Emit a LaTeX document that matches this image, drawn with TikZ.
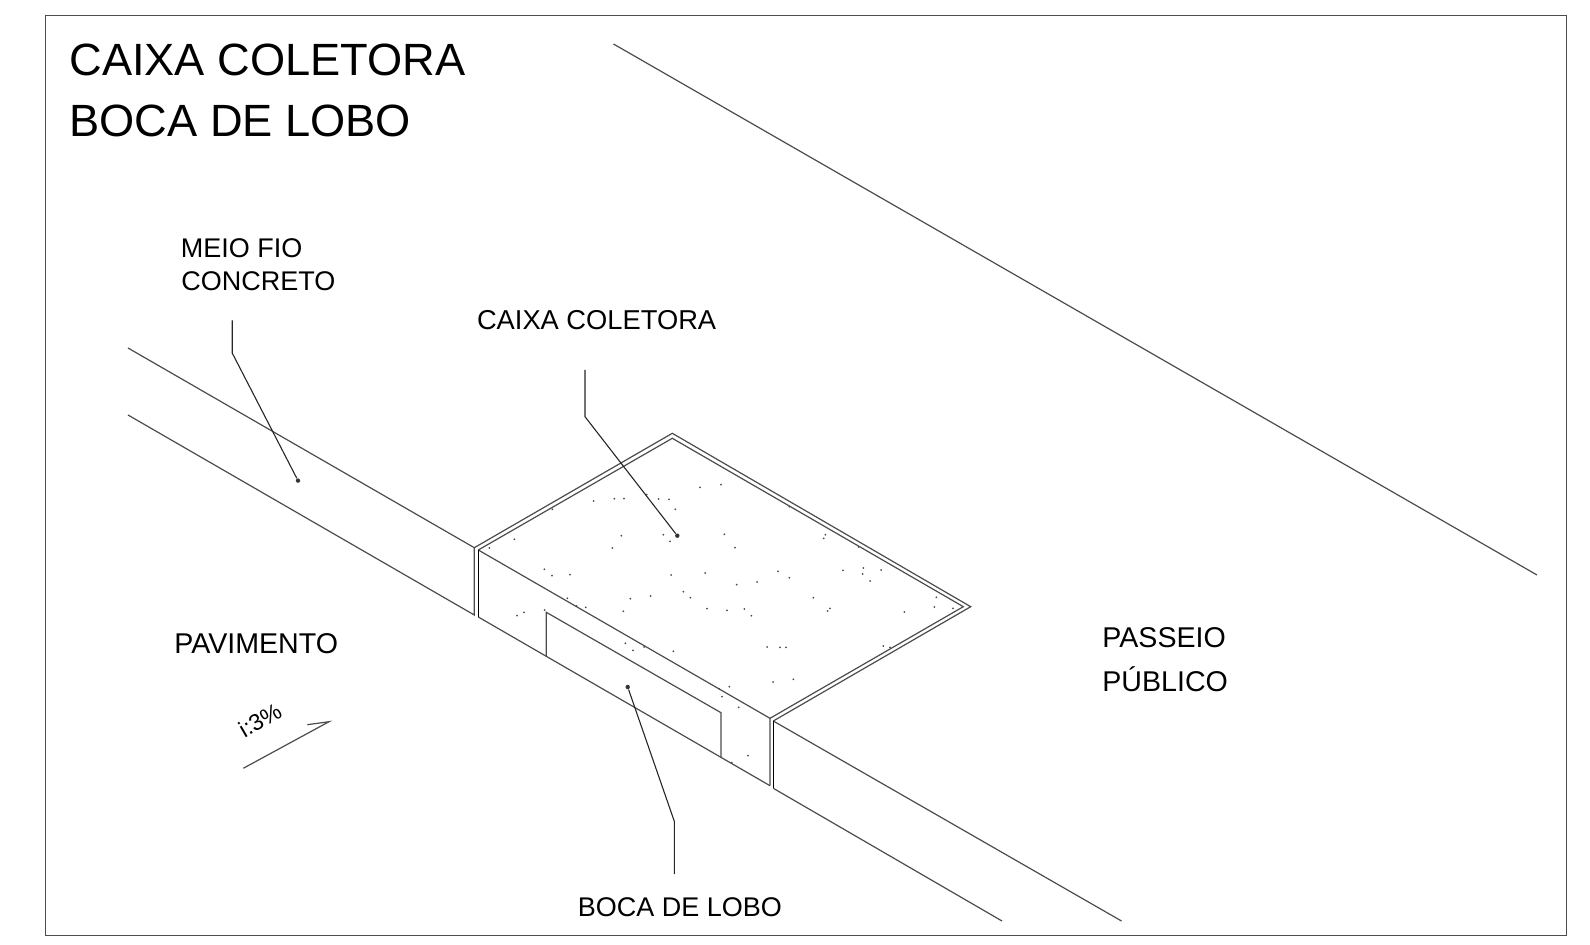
\documentclass[tikz,border=0pt]{standalone}
\usepackage{fontspec}
\setmainfont{Liberation Sans}
\definecolor{linecol}{gray}{0.3}
\tikzset{
    titletext/.style={anchor=base west,inner sep=0pt,font=\fontsize{22.6}{27}\selectfont},
    labeltext/.style={anchor=base west,inner sep=0pt,font=\fontsize{13.5}{16}\selectfont},
    biglabeltext/.style={anchor=base west,inner sep=0pt,font=\fontsize{14.3}{17}\selectfont},
    edgeline/.style={draw=linecol,line width=.6pt},
    frameline/.style={draw=linecol,line width=.45pt},
    heavyline/.style={draw=black,line width=.8pt},
    leaderline/.style={draw=black!85,line width=.55pt},
    speck/.style={fill=black!70,inner sep=0pt,minimum size=1pt,circle},
    leaderdot/.style={fill=black!80,inner sep=0pt,minimum size=2.2pt,circle}
}
\begin{document}
\begin{tikzpicture}[x=.5pt,y=-.5pt]
    \useasboundingbox (0,0) rectangle (1590,945);
    \draw[frameline] (45,15) rectangle (1566,935);

    \node[titletext] (title1) at (69,76) {CAIXA COLETORA};
    \node[titletext] (title2) at (69,137) {BOCA DE LOBO};
    \node[labeltext] (meio) at (180.5,257.5) {MEIO FIO};
    \node[labeltext] (concreto) at (181,291) {CONCRETO};
    \node[labeltext,font=\fontsize{13.65}{16}\selectfont] (caixa) at (476.6,329.5) {CAIXA COLETORA};
    \node[biglabeltext] (pavimento) at (174,654) {PAVIMENTO};
    \node[biglabeltext] (passeio) at (1102,648) {PASSEIO};
    \node[biglabeltext] (publico) at (1102,691.5) {PÚBLICO};
    \node[labeltext] (boca) at (577.5,916) {BOCA DE LOBO};
    \node[anchor=center,inner sep=0pt,rotate=30,font=\fontsize{11.5}{14}\selectfont] (slope) at (260,720) {i:3\%};

    % corners of the box
    \coordinate (oa) at (474.3,547.7);
    \coordinate (ob) at (672.3,433.3);
    \coordinate (oc) at (970.7,606.7);
    \coordinate (od) at (773.3,721);
    \coordinate (ia) at (478.3,550);
    \coordinate (ib) at (672.3,438.3);
    \coordinate (ic) at (963.3,606.7);
    \coordinate (id) at (770,718.3);
    \coordinate (la) at (474.3,615);
    \coordinate (lb) at (478.3,617);
    \coordinate (lc) at (770,785.7);
    \coordinate (ld) at (773.3,788.3);

    \draw[edgeline] (613.5,44) -- (1537,575);
    \draw[edgeline] (128,348) -- (oa) -- (la) -- (128,415);
    \draw[edgeline] (od) -- (1121.5,921);
    \draw[edgeline] (ld) -- (1002,921);
    \draw[edgeline] (oa) -- (ob) -- (oc) -- (od);
    \draw[edgeline] (lc) -- (id) -- (ic) -- (ib) -- (ia);
    \draw[edgeline] (ia) -- (id);
    \draw[edgeline] (lb) -- (lc);
    \draw[heavyline] (ia) -- (lb);
    \draw[heavyline] (od) -- (ld);
    \draw[edgeline] (546.3,656.7) -- (546.3,612.3) -- (721,712.7) -- (721,757.7);

    % leaders
    \node[leaderdot] (meiodot) at (298,480.6) {};
    \node[leaderdot] (caixadot) at (677.3,535.7) {};
    \node[leaderdot] (bocadot) at (627.7,687) {};
    \draw[leaderline] (232.2,320.4) -- (232.2,353) -- (meiodot);
    \draw[leaderline] (585,370) -- (585,416.7) -- (caixadot);
    \draw[leaderline] (674.3,874) -- (674.3,821.3) -- (bocadot);

    % slope arrow
    \coordinate (tipa) at (329,721.7);
    \draw[edgeline] (243.3,768.3) -- (tipa) -- (307.3,724.7);

    % concrete specks
    \foreach \px/\py in {700/487.3,721/484.7,593.7/501,614.3/498.7,624/498.7,646.7/494.7,658.7/499,
        669/499.3,675.3/509.3,552.3/509.3,514.3/539.3,489.3/548,621.3/535.7,663.3/534.7,670/541.3,
        724.3/534.3,735/547.7,612.3/548,544.3/569.3,552/575.7,570/574.7,671/575,705/573,736.7/584.7,
        683.3/591.7,690.3/597.7,650.7/596,630.3/598.7,567.3/598.3,576.7/606,585.7/607.3,623.3/611.3,
        707/608.7,727/610.3,524/612.3,517/615.7,544.7/610,789.3/506.7,825.3/534.7,823.7/538.3,
        858.7/547,843/570.3,863.3/568,862.7/574,870/581,881/570,778/571.3,789.3/577.7,757/582,
        813.3/597.7,936.3/597.3,934.3/607,953/608.3,904.3/612,830/608.3,827.7/611,744.3/609,
        751.3/615.7,767/647,780/647.3,786/647.3,883.3/646,890/647.3,625.3/643.3,633/650.3,644/647,
        673.3/651.3,773/682,793.3/679.3,719.3/689,729.3/686.7,722/696.7,738.7/707.3,748/755.7,731.7/762.7}
        \node[speck] at (\px,\py) {};
\end{tikzpicture}
\end{document}
